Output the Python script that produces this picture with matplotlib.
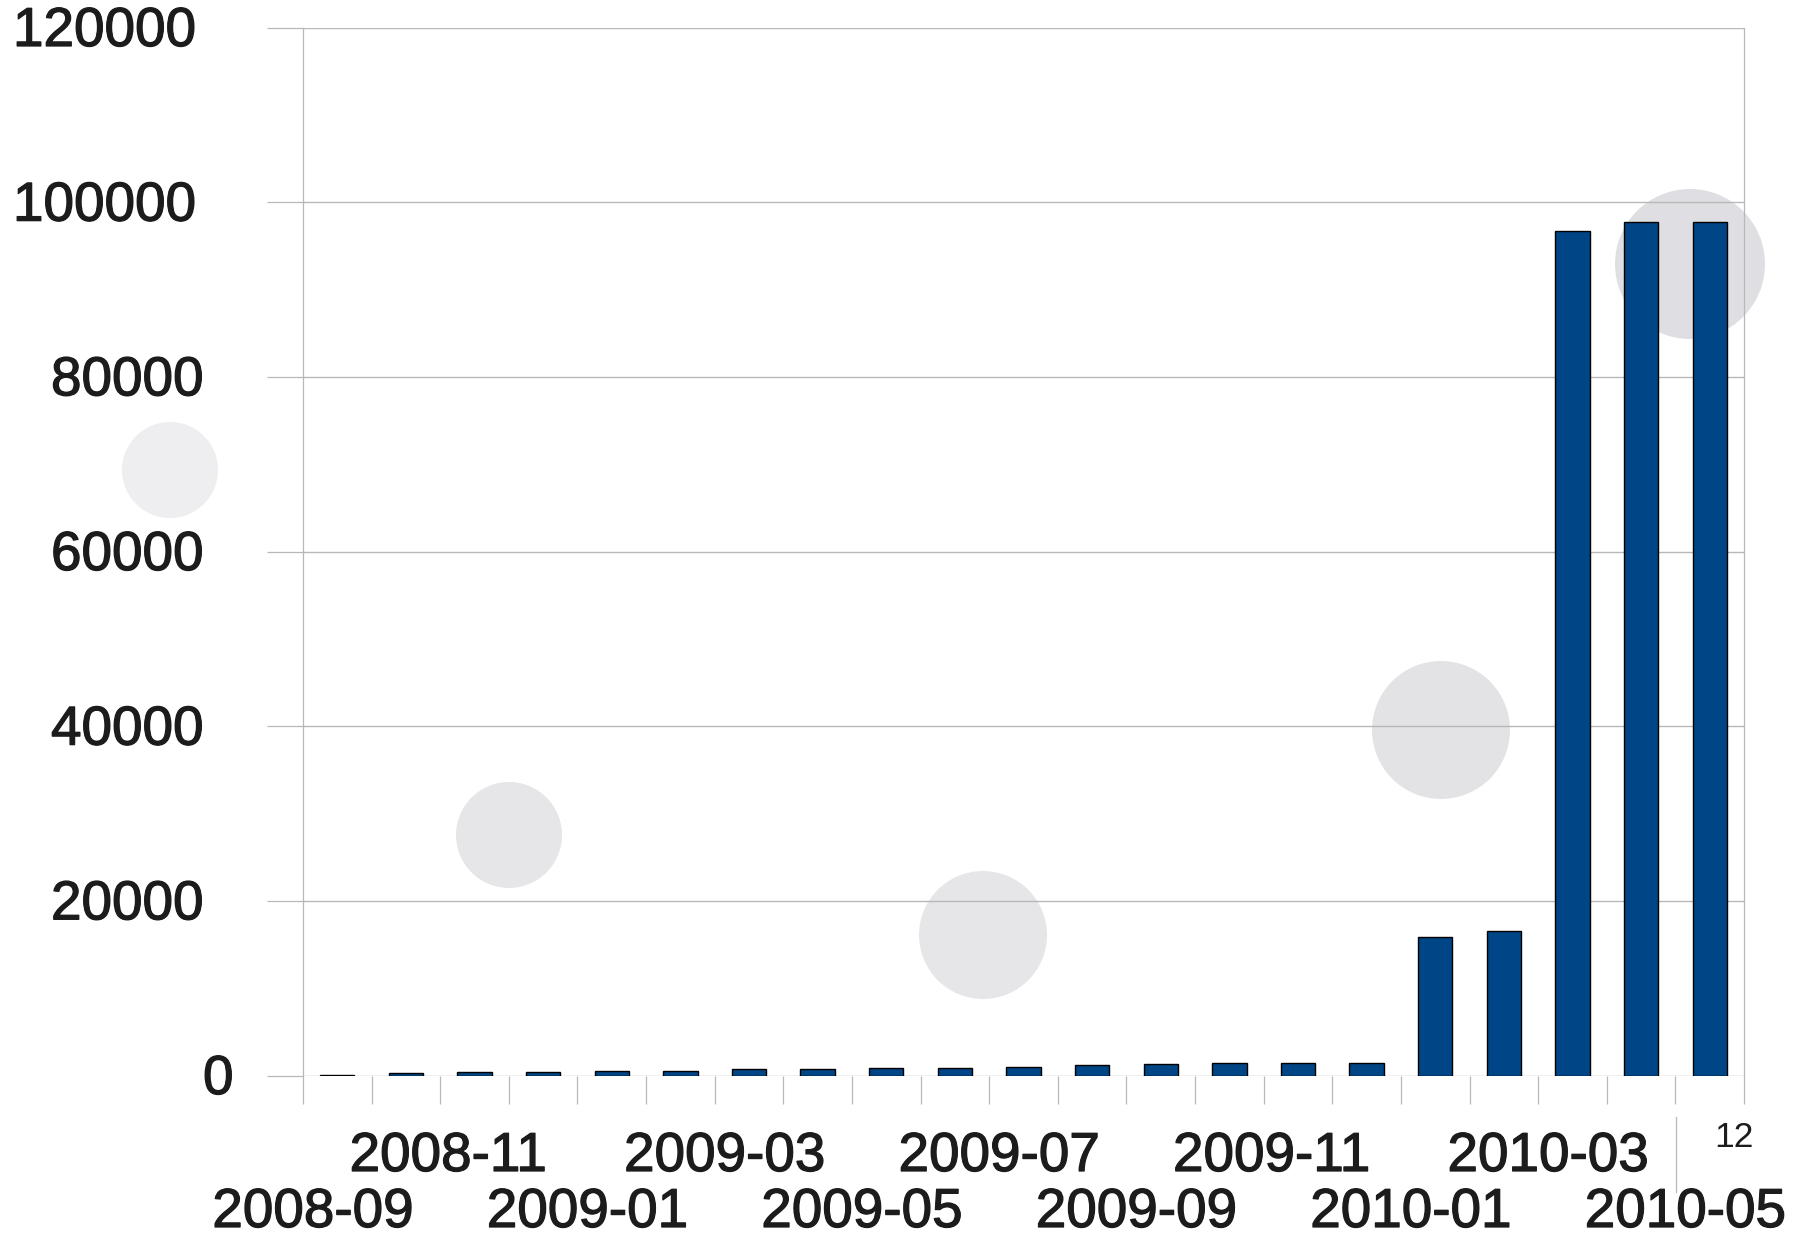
import matplotlib
matplotlib.use('Agg')
import matplotlib.pyplot as plt
import matplotlib.patheffects as pe
from matplotlib.patches import Circle
from matplotlib.lines import Line2D
from matplotlib.transforms import blended_transform_factory, ScaledTranslation

# ---- data ----
months = ['2008-09', '2008-10', '2008-11', '2008-12', '2009-01', '2009-02', '2009-03',
          '2009-04', '2009-05', '2009-06', '2009-07', '2009-08', '2009-09', '2009-10',
          '2009-11', '2009-12', '2010-01', '2010-02', '2010-03', '2010-04', '2010-05']
values = [80, 300, 380, 420, 500, 530, 730, 760, 840, 880, 950, 1180, 1300, 1380,
          1410, 1450, 15830, 16550, 96700, 97730, 97730]
yticks = [0, 20000, 40000, 60000, 80000, 100000, 120000]
extra_label = '12'

# ---- style ----
W, H = 1808, 1240
DPI = 100
FONT = 'Liberation Sans'
TXT = '#1c1c1c'
GRID = '#b8b8b8'
BAR = '#004586'
FS = 39.5
EFF = [pe.withStroke(linewidth=0.9, foreground=TXT)]

fig = plt.figure(figsize=(W / DPI, H / DPI), dpi=DPI)
fig.patch.set_facecolor('white')

# decorative background circles (figure pixel coordinates)
circles = [(170, 470, 48, '#eeeef0'), (509, 835, 53, '#e6e6e9'), (983, 935, 64, '#e6e6e9'),
           (1441, 730, 69, '#e3e3e6'), (1690, 264, 75, '#dfdfe3')]
for cx, cy, r, c in circles:
    circ = Circle((cx / DPI, (H - cy) / DPI), r / DPI, transform=fig.dpi_scale_trans,
                  facecolor=c, edgecolor='none', zorder=-1)
    fig.add_artist(circ)

left, right, top, bottom = 303, 1744, 27.5, 1075.5
ax = fig.add_axes([left / W, 1 - bottom / H, (right - left) / W, (bottom - top) / H])
ax.set_facecolor('none')

x = list(range(len(values)))
ax.bar(x, values, width=0.5, color=BAR, edgecolor='#000000', linewidth=1.0, zorder=3)
ax.set_xlim(-0.5, len(values) - 0.5)
ax.set_ylim(0, 120000)

ax.set_yticks(yticks)
ax.yaxis.grid(True, color=GRID, linewidth=1.0)
ax.set_axisbelow(True)
ax.tick_params(axis='y', length=36 * 0.72, width=0.9, color=GRID, labelleft=False, direction='out')
ax.set_xticks([i - 0.5 for i in range(len(values) + 1)])
ax.tick_params(axis='x', length=28 * 0.72, width=0.9, color=GRID, labelbottom=False, direction='out')
for s in ['top', 'bottom']:
    ax.spines[s].set_visible(False)
for s in ['left', 'right']:
    ax.spines[s].set_color(GRID)
    ax.spines[s].set_linewidth(0.9)

# y tick labels
ytrans = blended_transform_factory(fig.transFigure, ax.transData) + \
    ScaledTranslation(0, -18.5 / DPI, fig.dpi_scale_trans)
for v in yticks:
    lab = str(v)
    xpx = 241 - 38 * len(lab)
    ax.text(xpx / W, v, lab, transform=ytrans, ha='left', va='baseline',
            fontsize=FS, family=FONT, color=TXT, clip_on=False, path_effects=EFF)

# x tick labels (every other month, staggered in two rows)
for i, m in enumerate(months):
    if i % 2:
        continue
    row_base = 1171 if i % 4 == 2 else 1227
    xtrans = blended_transform_factory(ax.transData, fig.transFigure) + \
        ScaledTranslation(-125 / DPI, 0, fig.dpi_scale_trans)
    ax.text(i, 1 - row_base / H, m, transform=xtrans, ha='left', va='baseline',
            fontsize=FS, family=FONT, color=TXT, clip_on=False, path_effects=EFF)

# stray label and separator at bottom right
fig.text(1733.5 / W, 1 - 1147 / H, extra_label, ha='center', va='baseline',
         fontsize=25.5, family=FONT, color=TXT)
fig.add_artist(Line2D([1676 / W, 1676 / W], [1 - 1117 / H, 1 - 1192 / H],
                      transform=fig.transFigure, color=GRID, linewidth=0.9))

fig.savefig('out.png', dpi=DPI)
